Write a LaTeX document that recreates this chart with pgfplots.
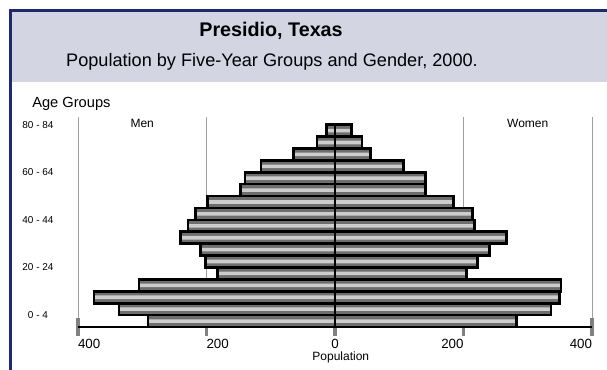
\documentclass[border=0pt]{standalone}
\usepackage{pgfplots}
\pgfplotsset{compat=1.18}
\usepackage{pgfplotstable}
\usepackage{fontspec}
\setmainfont{Liberation Sans}
\definecolor{hdr}{RGB}{211,213,227}
\definecolor{navy}{RGB}{30,40,120}
\definecolor{bardark}{RGB}{110,110,110}
\definecolor{barlight}{RGB}{205,205,205}

\pgfplotstableread{
age men women
0 291 282
1 336 336
2 375 349
3 305 352
4 183 205
5 202 222
6 209 240
7 240 267
8 229 217
9 217 214
10 198 184
11 147 141
12 140 141
13 115 107
14 65 55
15 28 42
16 13 26
}\pyr

\begin{document}
\begin{tikzpicture}
\useasboundingbox (0,0) rectangle (455.25pt,-277.5pt);
\fill[white] (0,0) rectangle (455.25pt,-277.5pt);
\begin{scope}[x=0.75pt,y=-0.75pt]
\fill[hdr] (10,10) rectangle (607,82);
\draw[navy, line width=2.25pt] (10.5,370) -- (10.5,10.5) -- (607,10.5);
\node[font=\bfseries\fontsize{14.8}{17}\selectfont] at (271,31) {Presidio, Texas};
\node[font=\fontsize{13.6}{16}\selectfont] at (272,62) {Population by Five-Year Groups and Gender, 2000.};
\node[anchor=west, font=\fontsize{11}{13}\selectfont, inner sep=0] at (32,103.5) {Age Groups};
\end{scope}
\begin{axis}[
  at={(58.5pt,-245.25pt)}, anchor=south west,
  width=385.5pt, height=157.5pt, scale only axis,
  xmin=-400, xmax=400, ymin=-0.5, ymax=17.14,
  clip=false,
  axis x line*=bottom, axis y line*=left,
  x axis line style={black, line width=1.2pt},
  y axis line style={draw=none},
  xtick={-400,-200,200,400},
  xticklabels={\makebox[0pt][l]{400},\makebox[0pt][l]{200},\makebox[0pt][r]{200},\makebox[0pt][r]{400}},
  extra x ticks={0}, extra x tick labels={0},
  extra x tick style={grid=none},
  xmajorgrids, major grid style={gray!75, line width=0.6pt},
  tick align=center, major tick length=13.5pt,
  xtick style={draw=gray, line width=2.5pt},
  xticklabel style={font=\fontsize{10}{12}\selectfont, yshift=1pt},
  ytick={0,4,8,12,16},
  yticklabels={0 - 4,20 - 24,40 - 44,60 - 64,80 - 84},
  ytick style={draw=none},
  yticklabel style={anchor=center, xshift=-23.25pt, yshift=4.5pt, font=\fontsize{7.5}{9}\selectfont},
]
% Men
\addplot[xbar, bar width=1, bar shift=0pt, fill=bardark, draw=none] table[x expr=-\thisrow{men}, y=age]{\pyr};
\addplot[xbar, bar width=0.3, bar shift=0pt, fill=barlight, draw=none] table[x expr=-\thisrow{men}, y=age]{\pyr};
\addplot[xbar, bar width=1, bar shift=0pt, fill=none, draw=black, line width=2pt] table[x expr=-\thisrow{men}, y=age]{\pyr};
% Women
\addplot[xbar, bar width=1, bar shift=0pt, fill=bardark, draw=none] table[x=women, y=age]{\pyr};
\addplot[xbar, bar width=0.3, bar shift=0pt, fill=barlight, draw=none] table[x=women, y=age]{\pyr};
\addplot[xbar, bar width=1, bar shift=0pt, fill=none, draw=black, line width=2pt] table[x=women, y=age]{\pyr};
\draw[black, line width=2pt] (axis cs:0,-0.5) -- (axis cs:0,16.5);
\node[font=\fontsize{9}{11}\selectfont, yshift=5pt] at (axis cs:-300,16) {Men};
\node[font=\fontsize{9}{11}\selectfont, yshift=5pt] at (axis cs:300,16) {Women};
\node[font=\fontsize{9}{11}\selectfont, yshift=-22.5pt] at (axis cs:9,-0.5) {Population};
\end{axis}
\end{tikzpicture}
\end{document}
